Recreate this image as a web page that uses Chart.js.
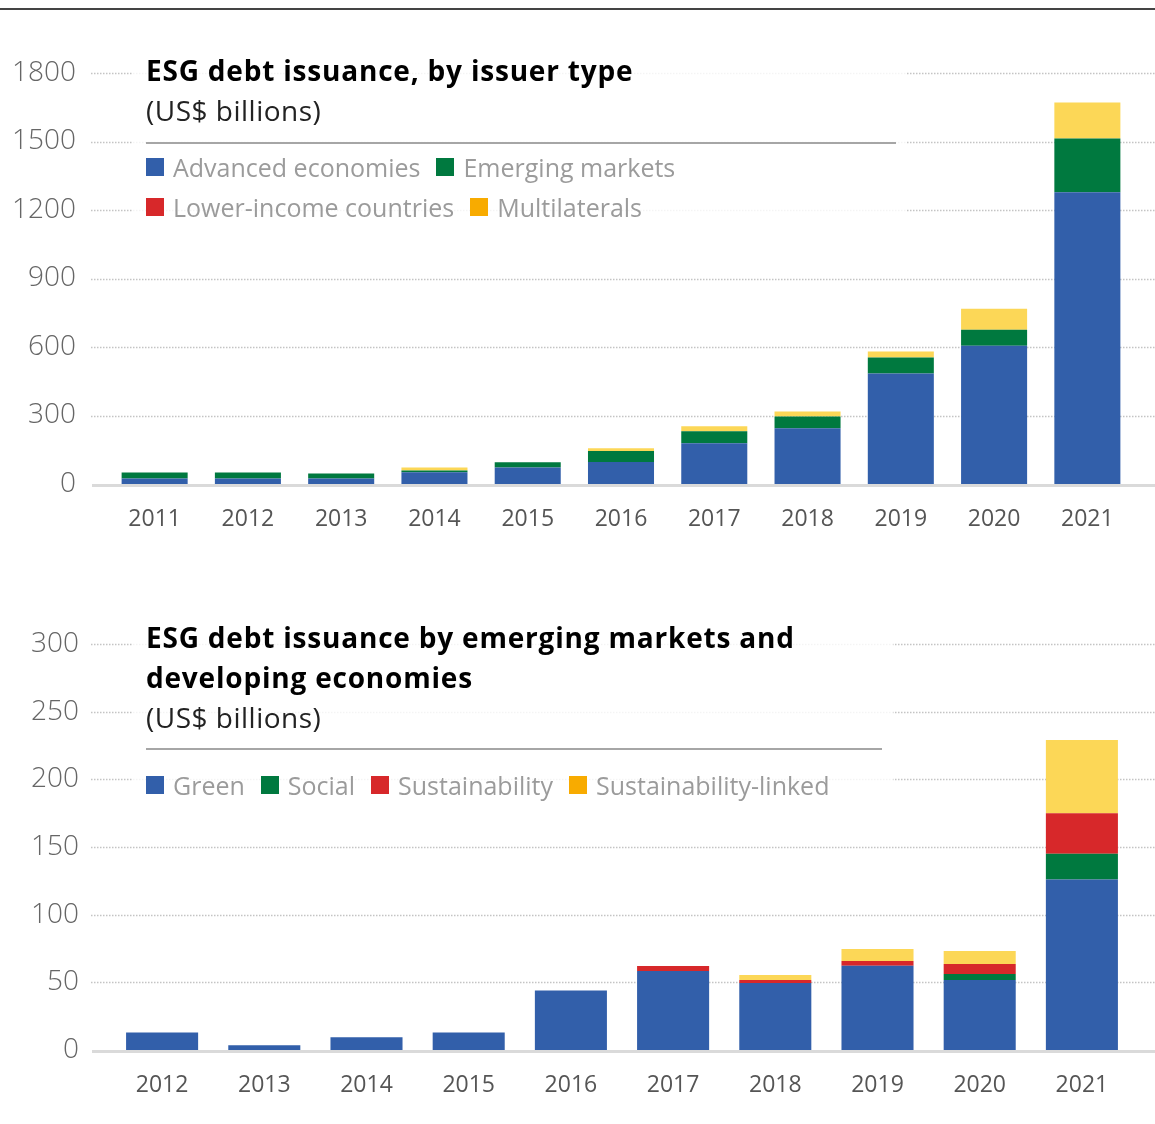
<!DOCTYPE html>
<html>
<head>
<meta charset="utf-8">
<script src="https://cdn.jsdelivr.net/npm/chart.js@4.4.1/dist/chart.umd.min.js"></script>
<style>
  body { margin: 0; background: #fff; }
  #lienzo { position: relative; width: 1155px; height: 1124px; overflow: hidden; font-family: "Open Sans", Lato, sans-serif; }
  .regla-superior { position: absolute; left: 0; top: 8px; width: 1155px; height: 2px; background: #444; }
  canvas { position: absolute; left: 0; }
  .velo { position: absolute; background: rgba(255, 255, 255, 0.82); }
  .texto { position: absolute; left: 146px; white-space: nowrap; line-height: 40px; }
  .titulo { font-size: 28px; font-weight: 700; color: #000; letter-spacing: 0.8px; }
  .subtitulo { font-size: 28px; font-weight: 400; color: #222; letter-spacing: 0.5px; }
  .linea { position: absolute; left: 146px; height: 2px; background: #a6a6a6; }
  .leyenda { position: absolute; left: 146px; display: flex; flex-wrap: wrap; }
  .item { display: flex; align-items: center; height: 40px; margin-right: 16px; font-size: 25px; color: #9b9b9b; }
  .cuadro { width: 18px; height: 18px; margin-right: 9px; }
</style>
</head>
<body>
<div id="lienzo">
  <div class="regla-superior"></div>

  <canvas id="porEmisor" width="1155" height="560" style="top:0"></canvas>
  <div class="velo" style="left:133px; top:50px; width:774px; height:178px"></div>
  <div class="texto titulo" style="top:50px">ESG debt issuance, by issuer type</div>
  <div class="texto subtitulo" style="top:90px">(US$ billions)</div>
  <div class="linea" style="top:142px; width:750px"></div>
  <div class="leyenda" id="leyendaEmisor" style="top:147px; width:600px"></div>

  <canvas id="porTipo" width="1155" height="564" style="top:560px"></canvas>
  <div class="velo" style="left:133px; top:617px; width:760px; height:188px"></div>
  <div class="texto titulo" style="top:617px">ESG debt issuance by emerging markets and<br>developing economies</div>
  <div class="texto subtitulo" style="top:697px">(US$ billions)</div>
  <div class="linea" style="top:748px; width:736px"></div>
  <div class="leyenda" id="leyendaTipo" style="top:765px; width:760px"></div>
</div>

<script>
// Emisión por tipo de emisor (miles de millones US$)
const anios1 = ["2011", "2012", "2013", "2014", "2015", "2016", "2017", "2018", "2019", "2020", "2021"];
const avanzadas = [24, 24, 24, 52, 72, 96, 179, 244, 484, 606, 1278];
const emergentes = [26, 26, 22, 7, 23, 48, 52, 52, 70, 70, 235];
const bajosIngresos = [0, 0, 0, 0, 0, 0, 0, 0, 0, 0, 0];
const multilaterales = [0, 0, 0, 13, 0, 13, 22, 22, 26, 91, 158];
const ticksEmisor = [0, 300, 600, 900, 1200, 1500, 1800];

// Emisión de mercados emergentes por tipo de bono
const anios2 = ["2012", "2013", "2014", "2015", "2016", "2017", "2018", "2019", "2020", "2021"];
const verdes = [13, 3.5, 9.5, 13, 44, 58.4, 49.5, 62.3, 51.7, 126];
const sociales = [0, 0, 0, 0, 0, 0, 0, 0, 4.5, 19];
const sostenibles = [0, 0, 0, 0, 0, 3.7, 2.2, 3.5, 7.3, 30];
const vinculados = [0, 0, 0, 0, 0, 0, 3.7, 8.8, 9.7, 54];
const ticksTipo = [0, 50, 100, 150, 200, 250, 300];

const AZUL = "#325faa";
const VERDE = "#00793f";
const ROJO = "#d7282a";
const AMARILLO = "#fcd757";
const NARANJA = "#f8ab00";

const FUENTE = "'Open Sans', Lato, sans-serif";

// líneas punteadas a todo lo ancho y línea base gris
const lineasGuia = {
  id: "lineasGuia",
  beforeDatasetsDraw(chart) {
    const { ctx, width } = chart;
    const y = chart.scales.y;
    ctx.save();
    ctx.strokeStyle = "#c4c4c4";
    ctx.lineWidth = 1.5;
    ctx.setLineDash([1.5, 1.5]);
    y.ticks.forEach((t) => {
      if (t.value === 0) return;
      const py = Math.round(y.getPixelForValue(t.value)) + 0.5;
      ctx.beginPath();
      ctx.moveTo(91, py);
      ctx.lineTo(width, py);
      ctx.stroke();
    });
    ctx.restore();
  },
  afterDatasetsDraw(chart) {
    const { ctx, width } = chart;
    const py = chart.scales.y.getPixelForValue(0);
    ctx.save();
    ctx.strokeStyle = "#dadada";
    ctx.lineWidth = 3;
    ctx.beginPath();
    ctx.moveTo(92, py + 1.5);
    ctx.lineTo(width, py + 1.5);
    ctx.stroke();
    ctx.restore();
  },
};

function crearLeyenda(id, series) {
  const cont = document.getElementById(id);
  series.forEach((s) => {
    const item = document.createElement("div");
    item.className = "item";
    const cuadro = document.createElement("span");
    cuadro.className = "cuadro";
    cuadro.style.background = s.muestra;
    item.appendChild(cuadro);
    item.appendChild(document.createTextNode(s.nombre));
    cont.appendChild(item);
  });
}

function crearBarras(idCanvas, etiquetas, series, ticks, caja) {
  return new Chart(document.getElementById(idCanvas), {
    type: "bar",
    data: {
      labels: etiquetas,
      datasets: series.map((s) => ({
        label: s.nombre,
        data: s.datos,
        backgroundColor: s.color,
        borderWidth: 0,
        barPercentage: caja.barra,
        categoryPercentage: 1,
      })),
    },
    plugins: [lineasGuia],
    options: {
      responsive: false,
      animation: false,
      layout: { padding: { top: caja.arriba, right: caja.derecha, left: 0, bottom: 0 } },
      plugins: { legend: { display: false }, tooltip: { enabled: false } },
      scales: {
        x: {
          stacked: true,
          grid: { display: false, drawTicks: false },
          border: { display: false },
          ticks: { color: "#555", font: { family: FUENTE, size: 23 }, padding: 22 },
          afterFit: (s) => { s.height = caja.altoX; },
        },
        y: {
          stacked: true,
          min: ticks[0],
          max: ticks[ticks.length - 1],
          afterBuildTicks: (s) => { s.ticks = ticks.map((v) => ({ value: v })); },
          grid: { display: false, drawTicks: false },
          border: { display: false },
          ticks: {
            color: "#666",
            font: { family: FUENTE, size: 28, weight: "300" },
            padding: 32,
            callback: (v) => String(v),
          },
          afterFit: (s) => { s.width = caja.anchoY; },
        },
      },
    },
  });
}

const seriesEmisor = [
  { nombre: "Advanced economies", datos: avanzadas, color: AZUL, muestra: AZUL },
  { nombre: "Emerging markets", datos: emergentes, color: VERDE, muestra: VERDE },
  { nombre: "Lower-income countries", datos: bajosIngresos, color: ROJO, muestra: ROJO },
  { nombre: "Multilaterals", datos: multilaterales, color: AMARILLO, muestra: NARANJA },
];

const seriesTipo = [
  { nombre: "Green", datos: verdes, color: AZUL, muestra: AZUL },
  { nombre: "Social", datos: sociales, color: VERDE, muestra: VERDE },
  { nombre: "Sustainability", datos: sostenibles, color: ROJO, muestra: ROJO },
  { nombre: "Sustainability-linked", datos: vinculados, color: AMARILLO, muestra: NARANJA },
];

crearLeyenda("leyendaEmisor", seriesEmisor);
crearLeyenda("leyendaTipo", seriesTipo);

crearBarras("porEmisor", anios1, seriesEmisor, ticksEmisor,
  { arriba: 73, derecha: 21, anchoY: 108, altoX: 76, barra: 0.708 });
crearBarras("porTipo", anios2, seriesTipo, ticksTipo,
  { arriba: 84, derecha: 22, anchoY: 111, altoX: 74, barra: 0.705 });
</script>
</body>
</html>
